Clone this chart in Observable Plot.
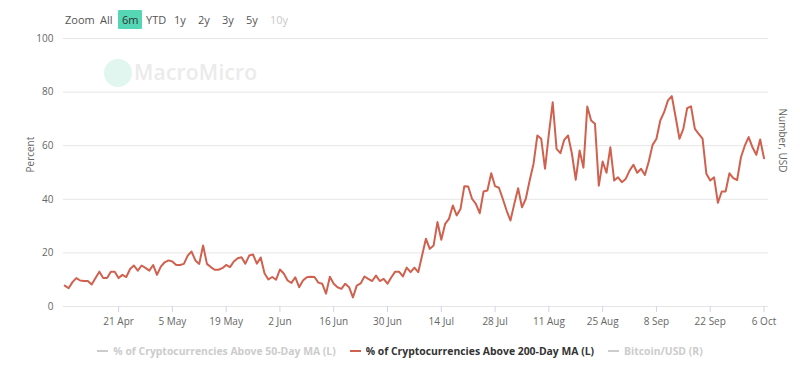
<!DOCTYPE html>
<html><head><meta charset="utf-8">
<script src="https://cdn.jsdelivr.net/npm/d3@7"></script>
<script src="https://cdn.jsdelivr.net/npm/@observablehq/plot@0.6"></script>
<style>
body{margin:0;background:#fff;font-family:"Open Sans",sans-serif;}
#wrap{position:relative;width:800px;height:365px;overflow:hidden;}
#wrap svg{position:absolute;left:0;top:0;}
.zoom{position:absolute;top:10px;left:0;height:20px;font-size:11px;color:#555;}
.zoom span{position:absolute;top:0;line-height:19px;white-space:nowrap;}
.zoom span.sel{background:#55d6b4;color:#333;padding:0 4px;border-radius:1px;}
.zoom span.dis{color:#c8c8c8;}
.legend{position:absolute;top:344px;left:0;width:800px;text-align:center;font-size:10.4px;font-weight:bold;white-space:nowrap;}
.legend span{margin:0 7px;}
.legend i{display:inline-block;width:11px;height:2px;vertical-align:middle;margin-right:5px;position:relative;top:-1px;}
.wm{position:absolute;left:134px;top:58px;font-size:21px;color:#ebebeb;font-weight:600;letter-spacing:0.2px;}
.wmc{position:absolute;left:104px;top:59px;width:28px;height:28px;border-radius:50%;background:#e2f6f0;}
</style></head><body><div id="wrap"></div>
<script>
const startDate = "2025-04-07";
const values = [
 7.8, 6.8, 9.1, 10.6, 9.7, 9.5, 9.5, 8.2, 10.6, 13, 10.6, 10.6, 13, 13, 10.6, 11.8, 11, 14, 15.3, 13.4,
 15.3, 14.4, 13.4, 15.5, 11.8, 14.9, 16.5, 17.2, 16.8, 15.5, 15.5, 15.9, 19, 20.5, 17.2, 15.9, 22.8, 15.9, 14.7, 13.7,
 13.7, 14.3, 15.5, 14.7, 16.8, 18,
 18.4, 16, 19, 19.4, 16, 18.3, 12.3, 10.1, 11, 10, 13.8, 12.3, 9.7, 8.8, 10.9, 7.2, 9.7, 10.9, 11.1, 11,
 8.9, 8.5, 4.8, 11.1, 8.5, 7.2, 6.6, 8.5, 7.2, 3.4, 7.8, 8.6, 11.2, 10.3, 9.5, 11.5, 9.5, 10.3, 8.5, 10.9,
 13, 13, 11.2, 14.5, 12.8, 14.5, 12.8,
 19, 25.3, 21.5, 22.8, 31.5, 24.9, 30.8, 32.7, 37.7, 34, 36.4, 44.9, 44.8, 40.2, 38.3, 34.8, 42.9, 43.3, 49.7, 44.9,
 44.3, 40.2, 35.8, 32.1, 38.3, 44.1, 37, 40.2, 47, 53.2, 63.8, 62.6, 51.4, 64.4, 76.2, 58.8, 57.2, 62.2, 63.8, 57,
 47.3, 58.2, 51.8, 74.6, 69.4, 68.2,
 45.1, 54.1, 49.9, 59.4, 47, 48.2, 46.4, 47.6, 50.7, 52.9, 49.9, 51.4, 49.1, 54.1, 60.3, 62.6, 69.4, 72.5, 76.9, 78.5,
 70.6, 62.6, 66.3, 74, 74.7, 66.3, 64.4, 62.6, 49.5, 47, 48.2, 38.7, 42.9, 42.9, 49.7, 47.9, 47.2, 55.7, 60, 63.2,
 59.4, 56.6, 62.3, 55.3
];
const xTicks = ["2025-04-21","2025-05-05","2025-05-19","2025-06-02","2025-06-16","2025-06-30","2025-07-14","2025-07-28","2025-08-11","2025-08-25","2025-09-08","2025-09-22","2025-10-06"];
const yTicks = [0, 20, 40, 60, 80, 100];
const seriesNames = ["% of Cryptocurrencies Above 50-Day MA (L)", "% of Cryptocurrencies Above 200-Day MA (L)", "Bitcoin/USD (R)"];
const seriesActive = [false, true, false];
const rangeButtons = ["Zoom", "All", "6m", "YTD", "1y", "2y", "3y", "5y", "10y"];
const yLabel = "Percent";
const y2Label = "Number, USD";
const lineColor = "#d0614e";

const t0 = new Date(startDate + "T00:00:00Z");
const data = values.map((v, i) => ({date: d3.utcDay.offset(t0, i), value: v}));
const fmt = d3.utcFormat("%-d %b");

const chart = Plot.plot({
  width: 800, height: 365,
  marginLeft: 63, marginRight: 32, marginTop: 38, marginBottom: 59,
  style: {fontFamily: "Open Sans, sans-serif", fontSize: "10px", color: "#666", background: "transparent"},
  x: {type: "utc", domain: [new Date("2025-04-06T16:00:00Z"), new Date("2025-10-07T04:00:00Z")], label: null},
  y: {domain: [0, 100], label: null},
  marks: [
    Plot.gridY(yTicks, {stroke: "#e6e6e6", strokeOpacity: 1}),
    Plot.axisY(yTicks, {tickSize: 0, tickPadding: 10, fill: "#666", fontSize: 10, label: null}),
    Plot.axisX(xTicks.map(d => new Date(d + "T00:00:00Z")), {tickSize: 6, stroke: "#ccd6eb", tickPadding: 5, tickFormat: fmt, fill: "#666", fontSize: 10, label: null}),
    Plot.text([yLabel], {frameAnchor: "left", rotate: -90, dx: -33, fill: "#666", fontSize: 10}),
    Plot.text([y2Label], {frameAnchor: "right", rotate: 90, dx: 14, fill: "#666", fontSize: 10}),
    Plot.line(data, {x: "date", y: "value", stroke: lineColor, strokeWidth: 2, curve: "linear"})
  ]
});

const wrap = document.getElementById("wrap");
const wmc = document.createElement("div"); wmc.className = "wmc"; wrap.appendChild(wmc);
const wm = document.createElement("div"); wm.className = "wm"; wm.textContent = "MacroMicro"; wrap.appendChild(wm);
wrap.appendChild(chart);

const zoomBar = document.createElement("div"); zoomBar.className = "zoom";
const btnX = [65, 100, 118, 146, 174, 198, 222, 246, 270];
rangeButtons.forEach((b, i) => {
  const s = document.createElement("span");
  s.textContent = b;
  s.style.left = btnX[i] + "px";
  if (b === "6m") s.className = "sel";
  if (b === "10y") s.className = "dis";
  zoomBar.appendChild(s);
});
wrap.appendChild(zoomBar);

const legend = document.createElement("div"); legend.className = "legend";
seriesNames.forEach((n, i) => {
  const s = document.createElement("span");
  const ic = document.createElement("i");
  ic.style.background = seriesActive[i] ? lineColor : "#cccccc";
  s.appendChild(ic);
  s.appendChild(document.createTextNode(n));
  s.style.color = seriesActive[i] ? "#333" : "#cccccc";
  legend.appendChild(s);
});
wrap.appendChild(legend);
</script>
</body></html>
